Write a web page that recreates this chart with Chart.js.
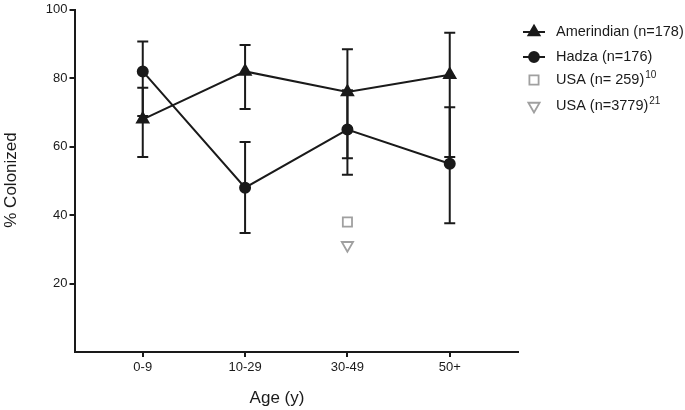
<!DOCTYPE html>
<html>
<head>
<meta charset="utf-8">
<script src="https://cdn.jsdelivr.net/npm/chart.js@4.4.0/dist/chart.umd.min.js"></script>
<style>
  html, body { margin: 0; padding: 0; background: #fff; }
  #wrap { width: 685px; height: 410px; }
</style>
</head>
<body>
<div id="wrap"><canvas id="chart" width="685" height="410"></canvas></div>
<script>
// age groups and % colonized
const ageGroups = ['0-9', '10-29', '30-49', '50+'];
const amerindian = [68, 82, 76, 81];
const amerindianLow = [57, 71, 56.6, 57];
const amerindianHigh = [77.2, 89.7, 88.5, 93.3];
const hadza = [82, 48, 65, 55];
const hadzaLow = [69, 34.8, 51.8, 37.6];
const hadzaHigh = [90.7, 61.4, 76.5, 71.5];
const usa259 = [null, null, 38, null];
const usa3779 = [null, null, 31.2, null];
const yTicks = [20, 40, 60, 80, 100];

const ink = '#1a1a1a';
const grey = '#a0a0a0';
const font = '"Liberation Sans", Arial, sans-serif';

function toPoints(arr) {
    return arr.map((v, i) => ({ x: i, y: v })).filter(p => p.y !== null);
}

// error bars drawn under the markers
const errorBars = {
    id: 'errorBars',
    beforeDatasetsDraw(chart) {
        const ctx = chart.ctx;
        const xs = chart.scales.x, ys = chart.scales.y;
        const sets = [[amerindianLow, amerindianHigh], [hadzaLow, hadzaHigh]];
        ctx.save();
        ctx.strokeStyle = ink;
        ctx.lineWidth = 2;
        sets.forEach(([lo, hi]) => {
            lo.forEach((l, i) => {
                const x = xs.getPixelForValue(i);
                const y1 = ys.getPixelForValue(l);
                const y2 = ys.getPixelForValue(hi[i]);
                ctx.beginPath();
                ctx.moveTo(x, y1); ctx.lineTo(x, y2);
                ctx.moveTo(x - 5.5, y1); ctx.lineTo(x + 5.5, y1);
                ctx.moveTo(x - 5.5, y2); ctx.lineTo(x + 5.5, y2);
                ctx.stroke();
            });
        });
        ctx.restore();
    }
};

// axis titles and legend with superscripts
const decorations = {
    id: 'decorations',
    afterDraw(chart) {
        const ctx = chart.ctx;
        ctx.save();
        ctx.fillStyle = ink;
        ctx.textBaseline = 'middle';

        ctx.font = '17px ' + font;
        ctx.textAlign = 'center';
        ctx.fillText('Age (y)', 277, 398);
        ctx.translate(11, 180);
        ctx.rotate(-Math.PI / 2);
        ctx.fillText('% Colonized', 0, 0);
        ctx.setTransform(1, 0, 0, 1, 0, 0);

        const rows = [
            { y: 32, label: 'Amerindian (n=178)', sup: '', style: 'triangle', rot: 0, line: true, color: ink, fill: ink, r: 6.5 },
            { y: 57, label: 'Hadza (n=176)', sup: '', style: 'circle', rot: 0, line: true, color: ink, fill: ink, r: 5 },
            { y: 80, label: 'USA (n= 259)', sup: '10', style: 'rect', rot: 0, line: false, color: grey, fill: 'rgba(0,0,0,0)', r: 6.5 },
            { y: 106, label: 'USA (n=3779)', sup: '21', style: 'triangle', rot: 180, line: false, color: grey, fill: 'rgba(0,0,0,0)', r: 6.5 }
        ];
        rows.forEach(row => {
            if (row.line) {
                ctx.strokeStyle = ink;
                ctx.lineWidth = 2;
                ctx.beginPath();
                ctx.moveTo(523, row.y); ctx.lineTo(545, row.y);
                ctx.stroke();
            }
            ctx.strokeStyle = row.color;
            ctx.fillStyle = row.fill;
            ctx.lineWidth = 1.8;
            Chart.helpers.drawPoint(ctx, { pointStyle: row.style, rotation: row.rot, radius: row.r, borderWidth: 1.8 }, 534, row.y);

            ctx.fillStyle = ink;
            ctx.textAlign = 'left';
            ctx.font = '14.5px ' + font;
            ctx.fillText(row.label, 556, row.y);
            if (row.sup) {
                const w = ctx.measureText(row.label).width;
                ctx.font = '10px ' + font;
                ctx.fillText(row.sup, 556 + w + 1, row.y - 5);
            }
        });
        ctx.restore();
    }
};

new Chart(document.getElementById('chart'), {
    type: 'line',
    data: {
        datasets: [
            {
                label: 'Amerindian (n=178)',
                data: toPoints(amerindian),
                borderColor: ink,
                backgroundColor: ink,
                borderWidth: 2,
                pointStyle: 'triangle',
                pointRadius: 6.5,
                tension: 0
            },
            {
                label: 'Hadza (n=176)',
                data: toPoints(hadza),
                borderColor: ink,
                backgroundColor: ink,
                borderWidth: 2,
                pointStyle: 'circle',
                pointRadius: 5,
                tension: 0
            },
            {
                label: 'USA (n= 259)',
                data: toPoints(usa259),
                showLine: false,
                borderColor: grey,
                backgroundColor: 'rgba(0,0,0,0)',
                pointStyle: 'rect',
                pointRadius: 6.5,
                pointBorderWidth: 1.8
            },
            {
                label: 'USA (n=3779)',
                data: toPoints(usa3779),
                showLine: false,
                borderColor: grey,
                backgroundColor: 'rgba(0,0,0,0)',
                pointStyle: 'triangle',
                pointRotation: 180,
                pointRadius: 6.5,
                pointBorderWidth: 1.8
            }
        ]
    },
    options: {
        responsive: false,
        animation: false,
        layout: { padding: { top: 7, right: 167, bottom: 0, left: 0 } },
        plugins: {
            legend: { display: false },
            tooltip: { enabled: false }
        },
        scales: {
            x: {
                type: 'linear',
                min: -0.667,
                max: 3.667,
                afterBuildTicks: s => { s.ticks = ageGroups.map((_, i) => ({ value: i })); },
                afterFit: s => { s.height = 58; },
                ticks: {
                    callback: v => ageGroups[v],
                    color: ink,
                    font: { family: font, size: 13 },
                    padding: 3,
                    maxRotation: 0
                },
                grid: { display: true, drawOnChartArea: false, drawTicks: true, tickLength: 5, color: ink, lineWidth: 2 },
                border: { display: true, color: ink, width: 2 }
            },
            y: {
                min: 0,
                max: 100,
                afterBuildTicks: s => { s.ticks = yTicks.map(v => ({ value: v })); },
                afterFit: s => { s.width = 74.5; },
                ticks: {
                    color: ink,
                    font: { family: font, size: 13 },
                    padding: 2
                },
                grid: { display: true, drawOnChartArea: false, drawTicks: true, tickLength: 5, color: ink, lineWidth: 2 },
                border: { display: true, color: ink, width: 2 }
            }
        }
    },
    plugins: [errorBars, decorations]
});
</script>
</body>
</html>
